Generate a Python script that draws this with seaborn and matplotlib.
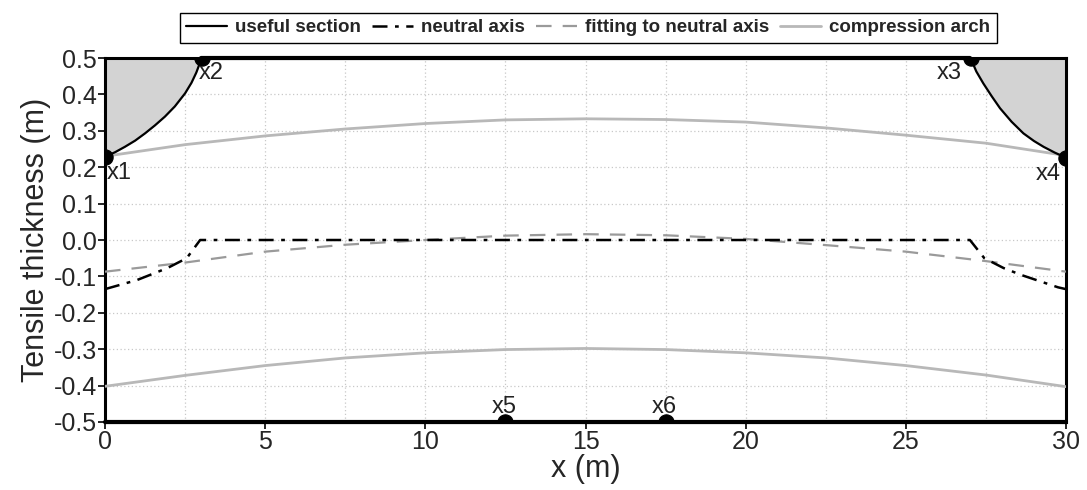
import matplotlib
matplotlib.use("Agg")
import matplotlib.pyplot as plt
import seaborn as sns
import numpy as np
import pandas as pd

# ---- data ----
arch_x = [0, 2.5, 5, 7.5, 10, 12.5, 15, 17.5, 20, 22.5, 25, 27.5, 30]
arch_top = [0.230, 0.262, 0.286, 0.305, 0.320, 0.330, 0.333, 0.331, 0.324, 0.308, 0.288, 0.266, 0.232]
arch_bot = [-0.402, -0.372, -0.345, -0.324, -0.310, -0.301, -0.298, -0.301, -0.310, -0.324, -0.345, -0.371, -0.403]

neutral_x = [0, 1.0, 1.95, 2.55, 2.97, 27.0, 27.45, 28.05, 28.6, 29.75, 30]
neutral_y = [-0.135, -0.110, -0.077, -0.050, 0.0, 0.0, -0.050, -0.077, -0.096, -0.130, -0.135]

fit_x = [0, 2.5, 5, 7.5, 10, 12.5, 15, 17.5, 20, 22.5, 25, 27.5, 30]
fit_y = [-0.087, -0.062, -0.032, -0.013, 0.000, 0.012, 0.016, 0.013, 0.003, -0.014, -0.032, -0.058, -0.087]

left_curve_x = [0, 0.31, 0.62, 0.94, 1.25, 1.56, 1.87, 2.18, 2.5, 2.7, 2.85, 3.02]
left_curve_y = [0.229, 0.241, 0.256, 0.273, 0.293, 0.315, 0.339, 0.367, 0.403, 0.432, 0.460, 0.500]
right_curve_x = [27.02, 27.2, 27.42, 27.68, 27.94, 28.3, 28.67, 29.0, 29.3, 29.65, 30]
right_curve_y = [0.500, 0.463, 0.430, 0.395, 0.362, 0.325, 0.293, 0.272, 0.256, 0.240, 0.226]

point_names = ["x1", "x2", "x3", "x4", "x5", "x6"]
point_x = [0, 3.02, 27.02, 30, 12.5, 17.5]
point_y = [0.229, 0.500, 0.500, 0.226, -0.500, -0.500]

xticks = [0, 5, 10, 15, 20, 25, 30]
yticks = [0.5, 0.4, 0.3, 0.2, 0.1, 0.0, -0.1, -0.2, -0.3, -0.4, -0.5]

# ---- style ----
sns.set_theme(style="white")
plt.rcParams['font.family'] = ['Liberation Sans', 'DejaVu Sans']

fig = plt.figure(figsize=(10.87, 4.90), dpi=100)
ax = fig.add_axes([0.0966, 0.1388, 0.8841, 0.7428])

FILL = "#d3d3d3"
ax.fill_between(left_curve_x, left_curve_y, 0.5, color=FILL, zorder=1, linewidth=0)
ax.fill_between(right_curve_x, right_curve_y, 0.5, color=FILL, zorder=1, linewidth=0)

# compression arch
sns.lineplot(x=arch_x, y=arch_top, ax=ax, color="#b8b8b8", lw=2, sort=False,
             estimator=None, label="compression arch", zorder=3)
sns.lineplot(x=arch_x, y=arch_bot, ax=ax, color="#b8b8b8", lw=2, sort=False,
             estimator=None, zorder=3)

# fitting
sns.lineplot(x=fit_x, y=fit_y, ax=ax, color="#9a9a9a", lw=1.6, sort=False,
             estimator=None, label="fitting to neutral axis", zorder=3)
ax.lines[-1].set_dashes((7, 5))

# neutral axis
sns.lineplot(x=neutral_x, y=neutral_y, ax=ax, color="black", lw=1.8, sort=False,
             estimator=None, label="neutral axis", zorder=4)
ax.lines[-1].set_dashes((6, 3, 1.5, 3))

# useful section
sns.lineplot(x=left_curve_x, y=left_curve_y, ax=ax, color="black", lw=1.6, sort=False,
             estimator=None, label="useful section", zorder=5)
sns.lineplot(x=right_curve_x, y=right_curve_y, ax=ax, color="black", lw=1.6, sort=False,
             estimator=None, zorder=5)
ax.plot([3.0, 27.0], [0.5, 0.5], color="black", lw=3, zorder=5, clip_on=False)
ax.plot([0, 30], [-0.5, -0.5], color="black", lw=3, zorder=5, clip_on=False)

# points (clipped by the frame, as in the reference)
sns.scatterplot(x=point_x, y=point_y, ax=ax, color="black", s=120, zorder=6,
                 clip_on=True, edgecolor="black")
offsets = {"x1": (1, -12), "x2": (-2, -11), "x3": (-24, -11), "x4": (-22, -12),
           "x5": (-10, 11), "x6": (-10, 11)}
for n, px, py in zip(point_names, point_x, point_y):
    dx, dy = offsets[n]
    ax.annotate(n, (px, py), xytext=(dx, dy), textcoords="offset points",
                fontsize=17, color="#222222", ha="left", va="center", zorder=7)

ax.set_xlim(0, 30)
ax.set_ylim(-0.5, 0.5)
ax.set_xticks(xticks)
ax.set_xticklabels([str(t) for t in xticks])
ax.set_yticks(yticks)
ax.set_yticklabels([f"{t:.1f}" for t in yticks])
ax.set_xticks(np.arange(0, 30.01, 2.5), minor=True)
ax.grid(True, which="both", axis="x", color="#c8c8c8", linestyle=(0, (1, 2)), lw=0.9)
ax.grid(True, which="major", axis="y", color="#c8c8c8", linestyle=(0, (1, 2)), lw=0.9)
ax.tick_params(axis="both", which="major", labelsize=18, length=5, width=1.2,
               direction="out", color="black", pad=1, bottom=True, left=True)
ax.tick_params(axis="x", which="minor", length=0)
for s in ax.spines.values():
    s.set_color("black")
    s.set_linewidth(2.2)

ax.set_xlabel("x (m)", fontsize=22, labelpad=0)
ax.set_ylabel("Tensile thickness (m)", fontsize=22, labelpad=2)

handles, labels = ax.get_legend_handles_labels()
order = ["useful section", "neutral axis", "fitting to neutral axis", "compression arch"]
hmap = dict(zip(labels, handles))
ax.get_legend().remove()
leg = fig.legend([hmap[o] for o in order], order, loc="center", ncol=4,
                 bbox_to_anchor=(0.541, 0.943), frameon=True, fancybox=False,
                 edgecolor="black", framealpha=1, handlelength=2.2,
                 handletextpad=0.4, columnspacing=0.6, borderpad=0.35,
                 prop={"size": 13.5, "weight": "bold",
                       "family": ["Liberation Sans Narrow", "Liberation Sans", "DejaVu Sans"]})
leg.get_frame().set_linewidth(1.0)

fig.savefig("out.png", dpi=100)
